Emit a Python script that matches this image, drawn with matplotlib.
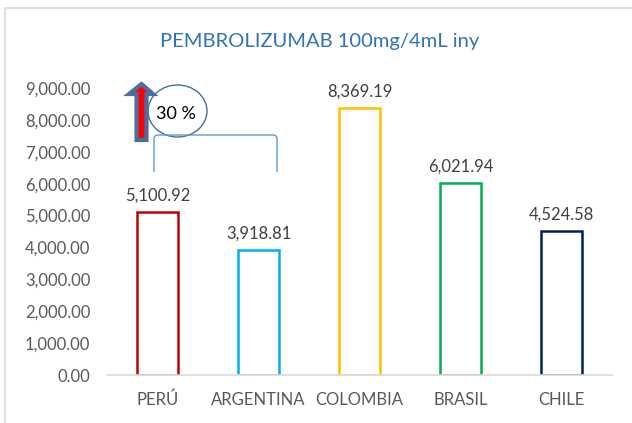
import matplotlib.pyplot as plt
from matplotlib.patches import Rectangle, Ellipse, Polygon
from matplotlib.path import Path
from matplotlib.patches import PathPatch

paises = ["PERÚ", "ARGENTINA", "COLOMBIA", "BRASIL", "CHILE"]
precios = [5100.92, 3918.81, 8369.19, 6021.94, 4524.58]
colores = ["#C00000", "#00B0F0", "#FFC000", "#00B050", "#002060"]
etiquetas = ["5,100.92", "3,918.81", "8,369.19", "6,021.94", "4,524.58"]
yticks = [0, 1000, 2000, 3000, 4000, 5000, 6000, 7000, 8000, 9000]

plt.rcParams['font.family'] = ['Lato', 'DejaVu Sans']

W, H = 632, 423
fig = plt.figure(figsize=(W / 100, H / 100), dpi=100)
ax = fig.add_axes([107 / W, 1 - 375 / H, 505 / W, 287 / H])


def px(x, y):
    # pixel position -> figure fraction
    return (x / W, 1 - y / H)


# chart frame
fig.patches.append(Rectangle(px(5, 440), 700 / W, 432 / H, transform=fig.transFigure,
                             fill=False, edgecolor="#D9D9D9", linewidth=1.2))

x = list(range(len(paises)))
ax.bar(x, precios, width=0.4, color="none", edgecolor=colores, linewidth=1.8, zorder=2)
for i, v in enumerate(precios):
    ax.annotate(etiquetas[i], (x[i], v), xytext=(0, 6), textcoords="offset points",
                ha="center", va="bottom", fontsize=12, color="#404040")

ax.set_xlim(-0.5, 4.5)
ax.set_ylim(0, 9000)
ax.set_yticks(yticks)
ax.set_yticklabels([f"{t:,.2f}" for t in yticks])
ax.set_xticks(x)
ax.set_xticklabels(paises)
ax.tick_params(length=0, labelsize=12, labelcolor="#595959")
ax.tick_params(axis="x", pad=12)
ax.tick_params(axis="y", pad=12)
for s in ["top", "right", "left"]:
    ax.spines[s].set_visible(False)
ax.spines["bottom"].set_color("#D9D9D9")
ax.spines["bottom"].set_linewidth(1.2)
ax.spines["bottom"].set_zorder(3)

fig.text(320 / W, px(0, 42)[1], "PEMBROLIZUMAB 100mg/4mL iny",
         ha="center", va="center", fontsize=14.5, color="#2E75B6")

# block arrow
flecha = [(136.5, 140), (146.5, 140), (146.5, 94), (153, 94), (141.5, 84),
          (129, 94), (136.5, 94)]
fig.patches.append(Polygon([px(a, b) for a, b in flecha], closed=True,
                           transform=fig.transFigure, facecolor="#FF0000",
                           edgecolor="#4A6FA0", linewidth=3, joinstyle="miter"))

# ellipse with percentage
fig.patches.append(Ellipse(px(177.5, 111), 59 / W, 52 / H, transform=fig.transFigure,
                           fill=False, edgecolor="#41719C", linewidth=1))
fig.text(*px(176, 114), "30 %", ha="center", va="center", fontsize=13, color="#000000")

# bracket
r = 4
verts = [px(154, 172), px(154, 135 + r), px(154, 135), px(154 + r, 135),
         px(277 - r, 135), px(277, 135), px(277, 135 + r), px(277, 172)]
codes = [Path.MOVETO, Path.LINETO, Path.CURVE3, Path.CURVE3,
         Path.LINETO, Path.CURVE3, Path.CURVE3, Path.LINETO]
fig.patches.append(PathPatch(Path(verts, codes), transform=fig.transFigure,
                             fill=False, edgecolor="#5B9BD5", linewidth=1))

fig.savefig("out.png", dpi=100)
